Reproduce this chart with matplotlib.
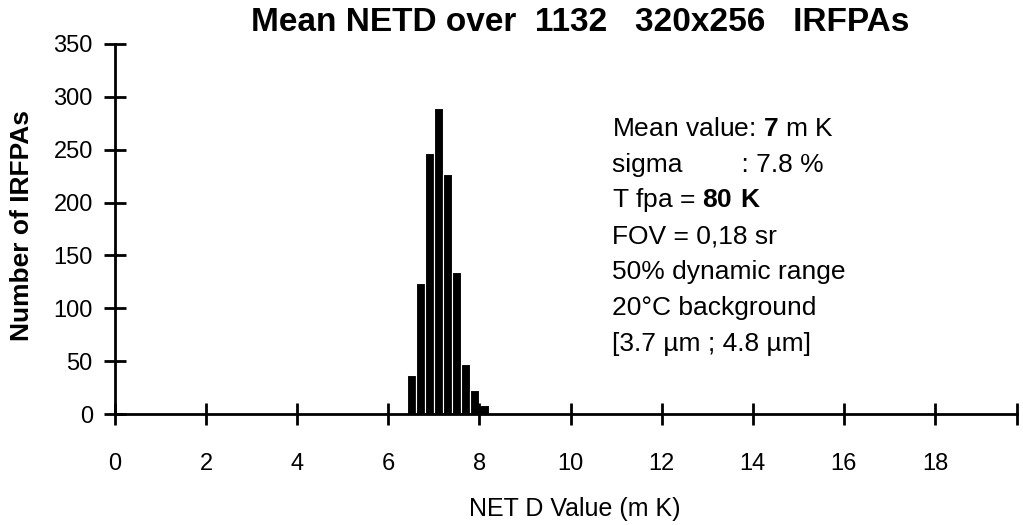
import matplotlib

matplotlib.use("Agg")
import matplotlib.pyplot as plt


# --------------------------------------------------
# 1. DATA
# --------------------------------------------------

netd_bins = [6.5, 6.7, 6.9, 7.1, 7.3, 7.5, 7.7, 7.9, 8.1]
counts = [37, 124, 247, 289, 227, 134, 47, 23, 9]

x_ticks = [0, 2, 4, 6, 8, 10, 12, 14, 16, 18]
y_ticks = [0, 50, 100, 150, 200, 250, 300, 350]

info_lines = [
    r"Mean value: $\mathbf{7}$ m K",
    "sigma        : 7.8 %",
    r"T fpa = $\mathbf{80\ K}$",
    "FOV = 0,18 sr",
    "50% dynamic range",
    "20°C background",
    "[3.7 µm ; 4.8 µm]",
]


# --------------------------------------------------
# 2. FONTS
# --------------------------------------------------

plt.rcParams["font.family"] = ["Liberation Sans", "DejaVu Sans"]
plt.rcParams["mathtext.fontset"] = "custom"
plt.rcParams["mathtext.rm"] = "Liberation Sans"
plt.rcParams["mathtext.bf"] = "Liberation Sans:bold"


# --------------------------------------------------
# 3. CHART
# --------------------------------------------------

fig = plt.figure(figsize=(10.23, 5.25), dpi=100)
ax = fig.add_axes([0.1124, 0.2114, 0.8817, 0.7048])

ax.bar(
    netd_bins,
    counts,
    width=0.2,
    color="black",
    edgecolor="white",
    linewidth=0.8,
)

x_end = 19.8
ax.set_xlim(0, x_end)
ax.set_ylim(0, 350)

ax.set_xticks(x_ticks + [x_end])
ax.set_xticklabels([str(t) for t in x_ticks] + [""])
ax.set_yticks(y_ticks)

for side in ["top", "right"]:
    ax.spines[side].set_visible(False)
for side in ["left", "bottom"]:
    ax.spines[side].set_linewidth(2)

ax.tick_params(
    axis="x",
    direction="inout",
    length=16,
    width=2,
    pad=20,
    labelsize=17,
)
ax.tick_params(
    axis="y",
    direction="inout",
    length=16,
    width=2,
    pad=8,
    labelsize=17,
)

ax.set_xlabel("NET D Value (m K)", fontsize=18, va="center")
ax.xaxis.set_label_coords(0.51, -0.257)

ax.set_ylabel(
    "Number of IRFPAs",
    fontsize=19,
    fontweight="bold",
    va="center",
)
ax.yaxis.set_label_coords(-0.103, 0.509)

fig.text(
    0.567,
    0.957,
    "Mean NETD over  1132   320x256   IRFPAs",
    ha="center",
    va="center",
    fontsize=24,
    fontweight="bold",
)

for i, line in enumerate(info_lines):
    ax.text(
        10.92,
        270 - i * 34,
        line,
        fontsize=19,
        ha="left",
        va="center",
    )

fig.savefig("out.png", dpi=100)
